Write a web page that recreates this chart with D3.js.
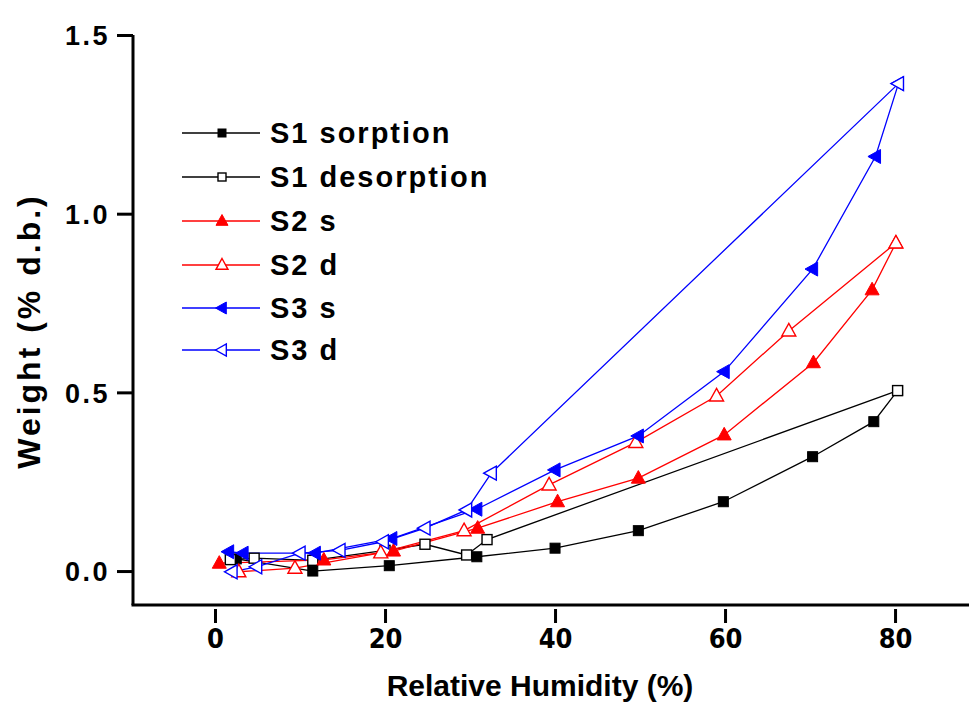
<!DOCTYPE html>
<html><head><meta charset="utf-8">
<script src="https://cdn.jsdelivr.net/npm/d3@7/dist/d3.min.js"></script>
<style>
html,body{margin:0;padding:0;background:#fff;}
svg{display:block;}
text{font-family:"Liberation Sans",Arial,sans-serif;font-weight:bold;fill:#000;}
</style></head>
<body>
<svg id="chart" width="969" height="706"></svg>
<script>
// ---- data (x = relative humidity %, y = weight % d.b.) ----
const s1SorptionX = [2.5, 11.5, 20.5, 30.8, 40.0, 49.8, 59.8, 70.3, 77.5, 80.3];
const s1SorptionY = [0.034, 0.0, 0.015, 0.040, 0.064, 0.113, 0.194, 0.320, 0.418, 0.505];
const s1DesorptionX = [80.3, 32.0, 29.6, 24.7, 20.0, 11.5, 4.6, 1.8];
const s1DesorptionY = [0.505, 0.088, 0.045, 0.075, 0.058, 0.030, 0.036, 0.032];
const s2SorptionX = [0.5, 12.8, 21.0, 30.9, 40.3, 49.8, 59.9, 70.4, 77.3, 80.1];
const s2SorptionY = [0.022, 0.031, 0.056, 0.120, 0.194, 0.260, 0.381, 0.583, 0.787, 0.918];
const s2DesorptionX = [80.1, 67.5, 59.0, 49.5, 39.3, 29.3, 19.5, 9.4, 2.8];
const s2DesorptionY = [0.918, 0.672, 0.490, 0.360, 0.241, 0.113, 0.051, 0.008, -0.002];
const s3SorptionX = [1.6, 3.3, 11.8, 20.8, 30.8, 40.0, 49.8, 59.9, 70.3, 77.7, 80.4];
const s3SorptionY = [0.054, 0.050, 0.050, 0.091, 0.173, 0.283, 0.378, 0.558, 0.845, 1.160, 1.364];
const s3DesorptionX = [80.4, 32.5, 29.6, 24.7, 19.8, 14.7, 10.0, 4.9, 2.0];
const s3DesorptionY = [1.364, 0.274, 0.171, 0.120, 0.082, 0.058, 0.050, 0.012, -0.002];

const seriesNames = ["S1 sorption", "S1 desorption", "S2 s", "S2 d", "S3 s", "S3 d"];
const xTicks = [0, 20, 40, 60, 80];
const yTicks = [0.0, 0.5, 1.0, 1.5];
const xTitle = "Relative Humidity (%)";
const yTitle = "Weight (% d.b.)";

const series = [
  {name: seriesNames[0], xs: s1SorptionX, ys: s1SorptionY, color: "#000000", shape: "square", filled: true},
  {name: seriesNames[1], xs: s1DesorptionX, ys: s1DesorptionY, color: "#000000", shape: "square", filled: false},
  {name: seriesNames[2], xs: s2SorptionX, ys: s2SorptionY, color: "#ff0000", shape: "up", filled: true},
  {name: seriesNames[3], xs: s2DesorptionX, ys: s2DesorptionY, color: "#ff0000", shape: "up", filled: false},
  {name: seriesNames[4], xs: s3SorptionX, ys: s3SorptionY, color: "#0000ff", shape: "left", filled: true},
  {name: seriesNames[5], xs: s3DesorptionX, ys: s3DesorptionY, color: "#0000ff", shape: "left", filled: false}
];

const svg = d3.select("#chart");
svg.append("rect").attr("width", 969).attr("height", 706).attr("fill", "#ffffff");

const x = d3.scaleLinear().domain([-9.65, 88.7]).range([133, 969]);
const y = d3.scaleLinear().domain([-0.095, 1.5]).range([605, 35]);

// axes
const yAxis = d3.axisLeft(y).tickValues(yTicks).tickFormat(d3.format(".1f")).tickSize(16).tickPadding(7);
const gy = svg.append("g").attr("transform", "translate(133,0)").call(yAxis);
gy.select(".domain").attr("stroke", "#000").attr("stroke-width", 3).attr("d", `M0,${y.range()[1]}V${y.range()[0]}`);
gy.selectAll(".tick line").attr("stroke", "#000").attr("stroke-width", 3);
gy.selectAll(".tick text").style("font-size", "27px").style("letter-spacing", "2.5px").attr("dy", "0.36em");

const xAxis = d3.axisBottom(x).tickValues(xTicks).tickFormat(d3.format("d")).tickSize(14).tickPadding(10);
const gx = svg.append("g").attr("transform", "translate(0,605)").call(xAxis);
gx.select(".domain").attr("stroke", "#000").attr("stroke-width", 3).attr("d", `M${x.range()[0] - 1.5},0H${x.range()[1]}`);
gx.selectAll(".tick line").attr("stroke", "#000").attr("stroke-width", 3).attr("y1", 4).attr("y2", 18);
gx.selectAll(".tick text")
  .style("font-family", "'Liberation Sans Narrow','DejaVu Sans Condensed',sans-serif")
  .style("font-size", "27px");

// titles
svg.append("text").attr("x", 540).attr("y", 696).attr("text-anchor", "middle")
  .style("font-size", "30px").text(xTitle);
svg.append("text").attr("transform", "translate(40,331) rotate(-90)").attr("text-anchor", "middle")
  .style("font-size", "32px").style("letter-spacing", "3px").text(yTitle);

// marker drawing
function marker(g, shape, filled, color, size) {
  let el;
  if (shape === "square") {
    el = g.append("rect").attr("x", -size / 2).attr("y", -size / 2).attr("width", size).attr("height", size);
  } else if (shape === "up") {
    const h = size * 0.9, w = size;
    el = g.append("path").attr("d", `M0,${-h * 0.6}L${w / 2},${h * 0.4}L${-w / 2},${h * 0.4}Z`);
  } else {
    const h = size, w = size * 0.9;
    el = g.append("path").attr("d", `M${-w * 0.6},0L${w * 0.4},${-h / 2}L${w * 0.4},${h / 2}Z`);
  }
  el.attr("fill", filled ? color : "#ffffff").attr("stroke", color).attr("stroke-width", filled ? 1 : 1.4);
  return el;
}

const line = d3.line().x(d => x(d[0])).y(d => y(d[1]));
const plot = svg.append("g");
series.forEach(s => {
  const pts = s.xs.map((v, i) => [v, s.ys[i]]);
  plot.append("path").datum(pts).attr("d", line).attr("fill", "none")
    .attr("stroke", s.color).attr("stroke-width", 1.3);
});
series.forEach(s => {
  const pts = s.xs.map((v, i) => [v, s.ys[i]]);
  const sz = s.shape === "square" ? 10 : 14;
  pts.forEach(p => {
    const g = plot.append("g").attr("transform", `translate(${x(p[0])},${y(p[1])})`);
    marker(g, s.shape, s.filled, s.color, sz);
  });
});

// legend
const legendRows = [133, 177, 221, 265, 308, 350];
series.forEach((s, i) => {
  const g = svg.append("g").attr("transform", `translate(182,${legendRows[i]})`);
  g.append("line").attr("x1", 0).attr("x2", 78).attr("y1", 0).attr("y2", 0)
    .attr("stroke", s.color).attr("stroke-width", 1.3);
  const mg = g.append("g").attr("transform", "translate(40,0)");
  marker(mg, s.shape, s.filled, s.color, s.shape === "square" ? 8 : 12);
  g.append("text").attr("x", 88).attr("y", 0).attr("dy", "0.36em")
    .style("font-size", "29px").style("letter-spacing", "2px").text(s.name);
});
</script>
</body></html>
